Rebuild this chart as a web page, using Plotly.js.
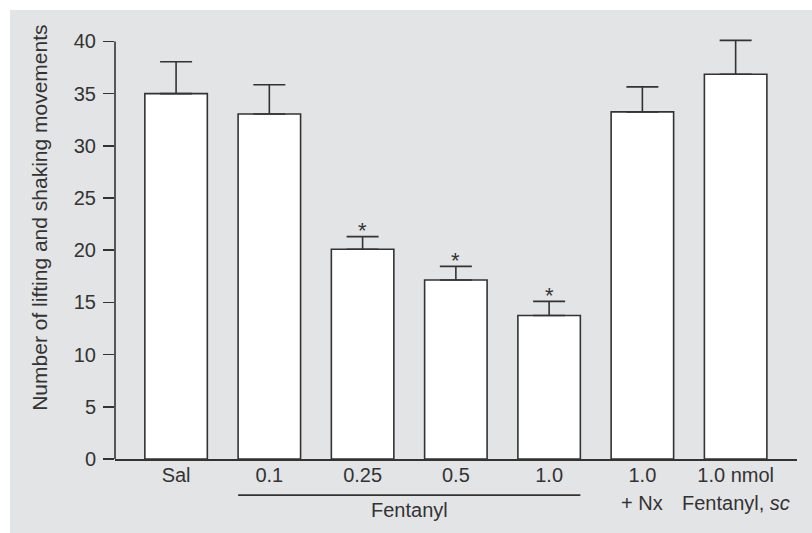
<!DOCTYPE html>
<html>
<head>
<meta charset="utf-8">
<script src="https://cdn.plot.ly/plotly-3.0.1.min.js"></script>
<style>
  html, body { margin: 0; padding: 0; background: #ffffff; }
  #chart { position: absolute; left: 10px; top: 10px; width: 802px; height: 523px; }
</style>
</head>
<body>
<div id="chart"></div>
<script>
// ---- data ----
const categories = ['Sal', '0.1', '0.25', '0.5', '1.0', '1.0 + Nx', '1.0 nmol sc'];
const tickLabels = ['Sal', '0.1', '0.25', '0.5', '1.0', '1.0', '1.0 nmol'];
const secondLine = ['', '', '', '', '', '+ Nx', 'Fentanyl, <i>sc</i>'];
const means      = [35.0, 33.05, 20.1, 17.15, 13.75, 33.25, 36.85];
const errors     = [3.05, 2.8, 1.2, 1.3, 1.35, 2.4, 3.25];
const significance = ['', '', '*', '*', '*', '', ''];
const groupLabel = 'Fentanyl';
const groupFirst = 1;   // index of first bar in the Fentanyl group
const groupLast  = 4;   // index of last bar in the Fentanyl group
const yTicks = [0, 5, 10, 15, 20, 25, 30, 35, 40];
const yMax = 40;
const yTitle = 'Number of lifting and shaking movements';

// ---- styling ----
const ink = '#333333';
const bg = '#e3e4e6';
const barWidth = 0.67;
const font = { family: 'Liberation Sans, Arial, sans-serif', size: 20, color: ink };
const titleFont = { family: 'Liberation Sans, Arial, sans-serif', size: 21, color: ink };

const barTrace = {
  type: 'bar',
  x: categories,
  y: means,
  width: barWidth,
  cliponaxis: false,
  marker: { color: '#ffffff', line: { color: ink, width: 1.6 } },
  error_y: {
    type: 'data', symmetric: false,
    array: errors,
    arrayminus: errors.map(() => 0),
    color: ink, thickness: 1.6, width: 16
  },
  hoverinfo: 'x+y'
};

const annotations = [];
secondLine.forEach((t, i) => {
  if (t) annotations.push({
    x: i, xref: 'x', y: -0.102, yref: 'paper',
    text: t, showarrow: false, xanchor: 'center', yanchor: 'middle', font: font
  });
});
significance.forEach((s, i) => {
  if (s) annotations.push({
    x: i, xref: 'x', y: means[i] + errors[i], yref: 'y',
    text: s, showarrow: false, xanchor: 'center', yanchor: 'middle', yshift: 6,
    font: { family: font.family, size: 22, color: ink }
  });
});
annotations.push({
  x: (groupFirst + groupLast) / 2, xref: 'x', y: -0.12, yref: 'paper',
  text: groupLabel, showarrow: false, xanchor: 'center', yanchor: 'middle', font: font
});
annotations.push({
  x: -0.110, xref: 'paper', y: 0.5635, yref: 'paper',
  text: yTitle, textangle: -90, showarrow: false,
  xanchor: 'center', yanchor: 'middle', font: titleFont
});

const shapes = [
  { // Fentanyl group underline
    type: 'line', xref: 'x', yref: 'paper',
    x0: groupFirst - barWidth / 2, x1: groupLast + barWidth / 2,
    y0: -0.0843, y1: -0.0843,
    line: { color: ink, width: 1.6 }
  },
  { // y axis line from 0 to the top tick
    type: 'line', xref: 'paper', yref: 'y',
    x0: 0, x1: 0, y0: 0, y1: yMax,
    line: { color: ink, width: 1.6 }
  }
];

// plot area: y=0 at 449.3 px, y=40 at 31.7 px (div coords) -> extend range to 41 for the top error cap
const pxPerUnit = (449.3 - 31.7) / yMax;
const yTop = 41;
const layout = {
  width: 802, height: 523,
  paper_bgcolor: bg, plot_bgcolor: bg,
  margin: { l: 105, r: 15, t: 31.7 - (yTop - yMax) * pxPerUnit, b: 73.7 },
  showlegend: false,
  font: font,
  xaxis: {
    type: 'category',
    range: [-0.655, 6.658],
    tickmode: 'array', tickvals: categories, ticktext: tickLabels,
    ticks: '', showline: true, linecolor: ink, linewidth: 1.6,
    ticklabelstandoff: -3,
    showgrid: false, zeroline: false, tickfont: font,
    fixedrange: true
  },
  yaxis: {
    range: [0, yTop],
    tickmode: 'array', tickvals: yTicks,
    ticks: 'outside', ticklen: 11, tickwidth: 1.6, tickcolor: ink,
    ticklabelstandoff: 3,
    showline: false,
    showgrid: false, zeroline: false, tickfont: font,
    fixedrange: true
  },
  annotations: annotations,
  shapes: shapes
};

Plotly.newPlot('chart', [barTrace], layout, { displayModeBar: false, staticPlot: true });
</script>
</body>
</html>
